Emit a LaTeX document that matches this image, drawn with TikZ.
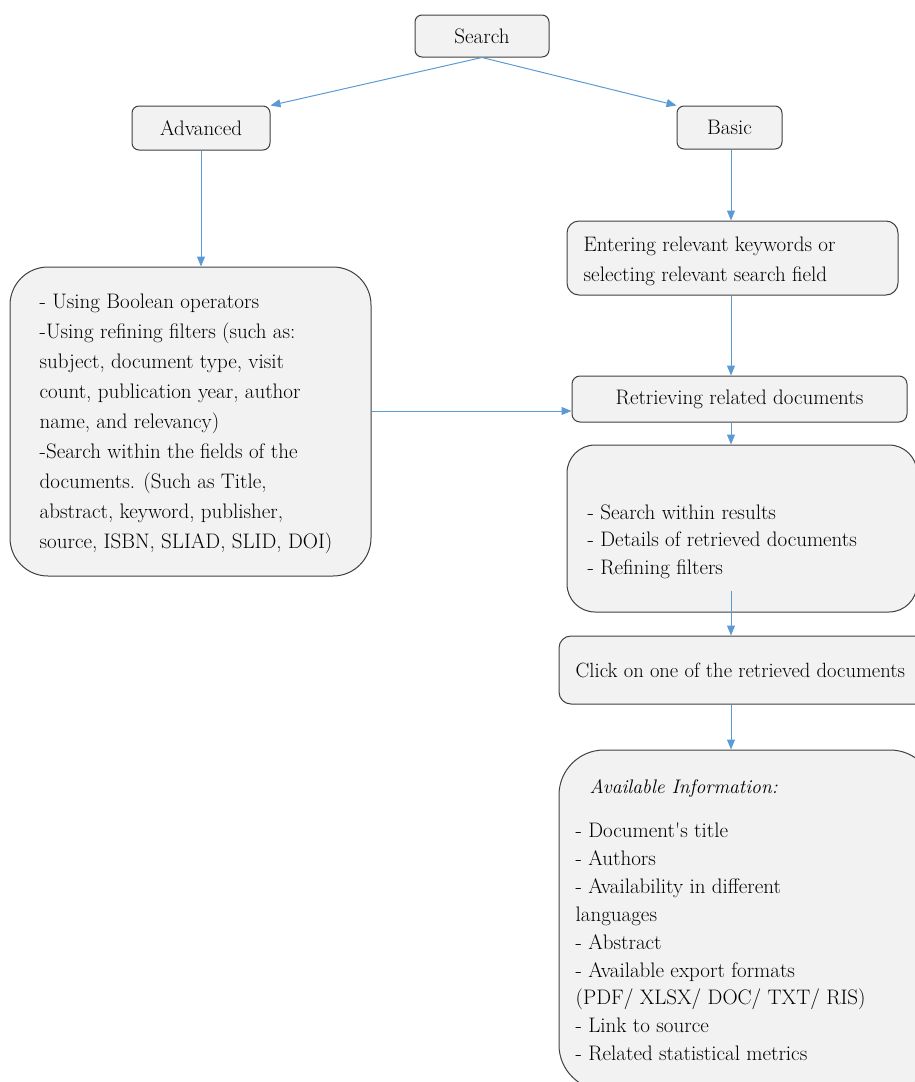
\documentclass[tikz,border=0pt]{standalone}
\usepackage{fontspec}
\usetikzlibrary{arrows.meta}
\definecolor{boxfill}{RGB}{242,242,242}
\definecolor{boxline}{RGB}{64,64,64}
\definecolor{linkblue}{RGB}{91,155,213}

\begin{document}
\begin{tikzpicture}[x=1pt, y=-1pt,
    box/.style={draw=boxline, line width=1pt, fill=boxfill, rounded corners=#1,
                inner sep=0pt, font=\fontsize{21}{30}\selectfont},
    box/.default=7pt,
    txt/.style={align=left, inner sep=0pt, anchor=west, font=\fontsize{21}{30}\selectfont},
    arr/.style={-{Triangle[length=10pt, width=8pt]}, draw=linkblue, line width=1pt}
]
    \useasboundingbox (0,0) rectangle (915,1082);
    \clip (0,0) rectangle (915,1082);

    \node[box, minimum width=134, minimum height=42] (search) at (482,36) {Search};
    \node[box, minimum width=138, minimum height=44] (adv)    at (201,128) {Advanced};
    \node[box, minimum width=105, minimum height=43] (basic)  at (729.5,127.5) {Basic};

    \node[box=38pt, minimum width=361, minimum height=309] (advbox) at (190.5,421.5) {};
    \node[txt] (advtxt) at ([xshift=30, yshift=-2]advbox.west)
        {- Using Boolean operators\\
         -Using refining filters (such as:\\
         subject, document type, visit\\
         count, publication year, author\\
         name, and relevancy)\\
         -Search within the fields of the\\
         documents. (Such as Title,\\
         abstract, keyword, publisher,\\
         source, ISBN, SLIAD, SLID, DOI)};

    \node[box=12pt, minimum width=331, minimum height=74] (ent) at (732.5,258) {};
    \node[txt] (enttxt) at ([xshift=17, yshift=-3]ent.west)
        {Entering relevant keywords or\\ selecting relevant search field};

    \node[box=8pt, minimum width=335, minimum height=46] (retr) at (739.5,399)
        {Retrieving related documents};

    \node[box=28pt, minimum width=350, minimum height=167] (res) at (742,528.5) {};
    \node[txt, font=\fontsize{21}{27.5}\selectfont] (restxt) at ([xshift=21, yshift=-13]res.west)
        {- Search within results\\
         - Details of retrieved documents\\
         - Refining filters};

    \node[box=12pt, minimum width=376, minimum height=68] (click) at (747,670) {};
    \node[txt, font=\fontsize{20.6}{28}\selectfont] (clicktxt) at ([xshift=17]click.west)
        {Click on one of the retrieved documents};

    \node[box=45pt, minimum width=376, minimum height=340] (avail) at (747,920) {};
    \node[txt, font=\fontsize{19.6}{28}\itshape\selectfont] (availhead)
        at ([xshift=31, yshift=-39]avail.north west) {Available Information:};
    \node[txt, font=\fontsize{21}{27.9}\selectfont] (availtxt)
        at ([xshift=17, yshift=-192.5]avail.north west)
        {- Document\textquotesingle s title\\
         - Authors\\
         - Availability in different\\
         languages\\
         - Abstract\\
         - Available export formats\\
         (PDF/ XLSX/ DOC/ TXT/ RIS)\\
         - Link to source\\
         - Related statistical metrics};

    \coordinate (spine) at (731,0);
    \coordinate (advout) at ([yshift=10.5]advbox.east);
    \coordinate (resout) at ([yshift=22]res.south);

    \draw[arr] (search.south) -- (adv.north east);
    \draw[arr] (search.south) -- (basic.north west);
    \draw[arr] (adv.south) -- (adv.south |- advbox.north);
    \draw[arr] (basic.south -| spine) -- (ent.north -| spine);
    \draw[arr] (ent.south -| spine) -- (retr.north -| spine);
    \draw[arr] (advout) -- (advout -| retr.west);
    \draw[arr] (retr.south -| spine) -- (res.north -| spine);
    \draw[arr] (resout -| spine) -- (click.north -| spine);
    \draw[arr] (click.south -| spine) -- (avail.north -| spine);
\end{tikzpicture}
\end{document}
